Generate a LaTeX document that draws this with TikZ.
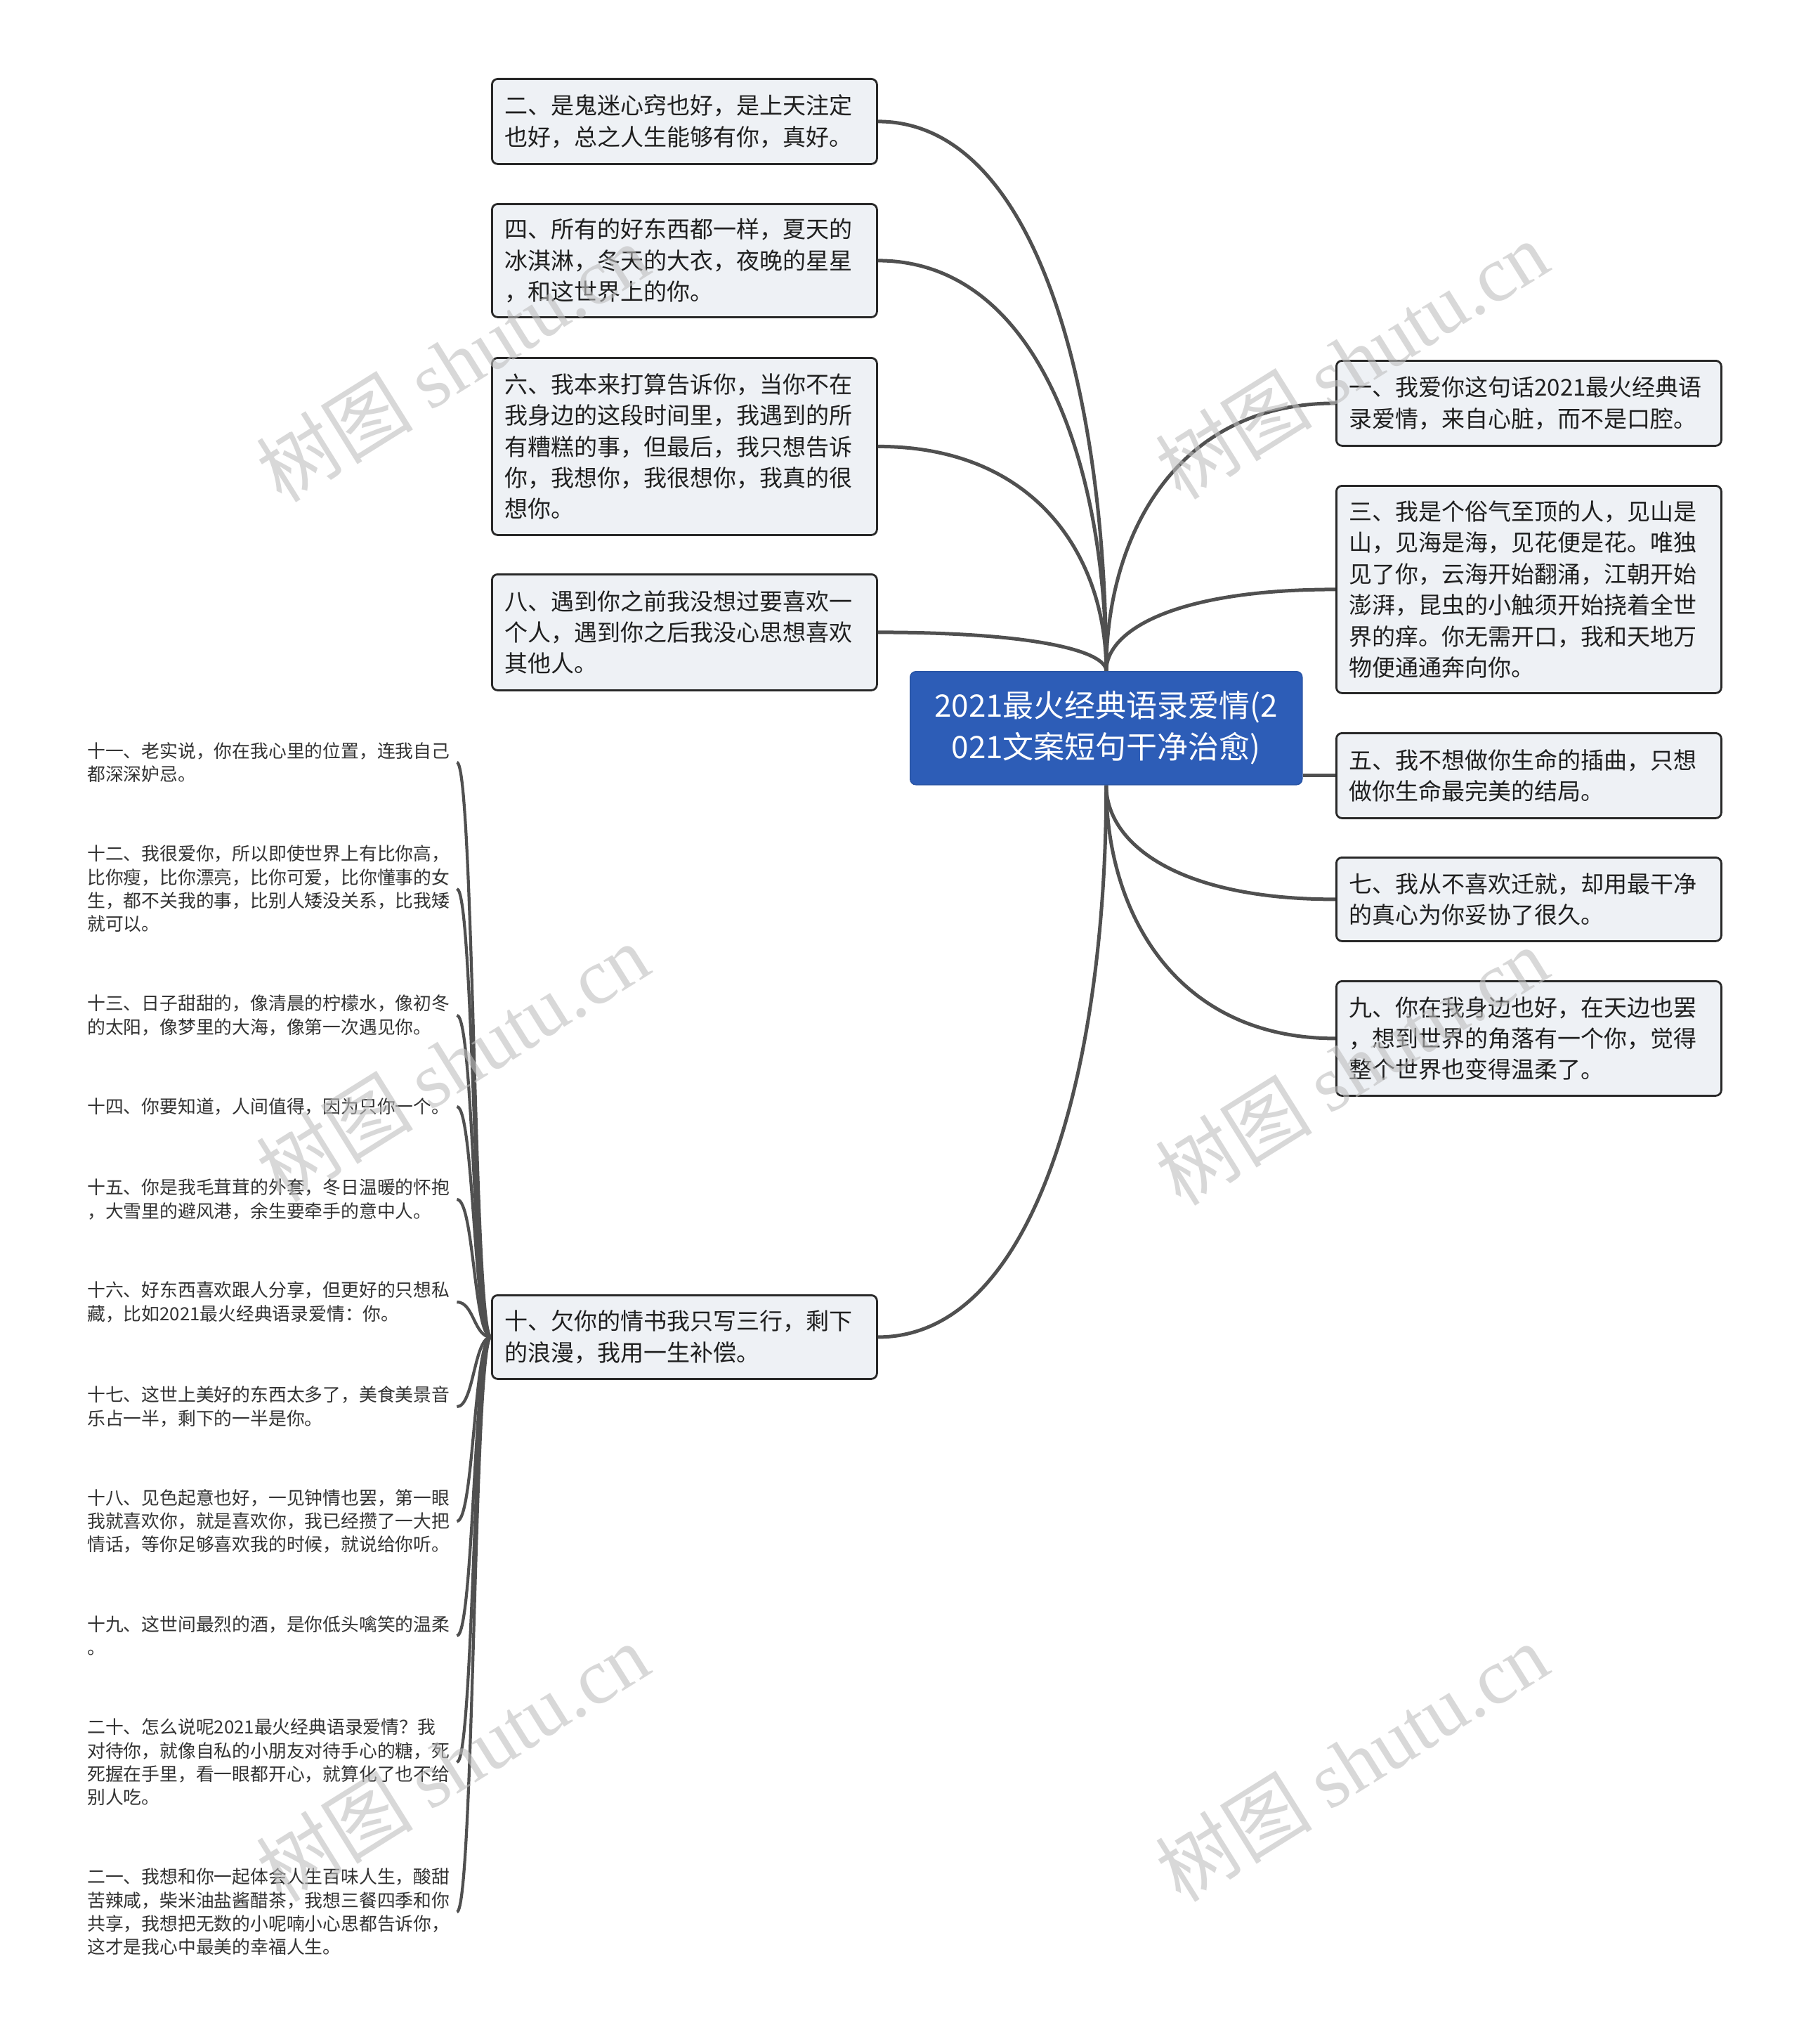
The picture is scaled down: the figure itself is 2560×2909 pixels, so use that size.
\documentclass[tikz,border=0pt]{standalone}
\usepackage{fontspec}
\setmainfont{Noto Sans CJK SC}
\newfontfamily\wmlatin{Liberation Serif}
\usetikzlibrary{calc,backgrounds}
\definecolor{boxfill}{RGB}{238,241,245}
\definecolor{boxline}{RGB}{40,40,40}
\definecolor{mainblue}{RGB}{45,93,183}
\definecolor{connc}{RGB}{80,80,80}
\definecolor{leaftext}{RGB}{51,51,51}
\definecolor{wmgray}{RGB}{190,190,190}
\tikzset{
  mmbox/.style={draw=boxline, line width=2.8pt, fill=boxfill, rounded corners=8pt, anchor=north west,
    text width=512pt, inner xsep=18pt, inner ysep=6pt, align=left,
    font=\fontsize{33}{44.4}\selectfont, text=black!88},
  centralbox/.style={draw=mainblue!90!black, line width=1.5pt, fill=mainblue, rounded corners=8pt, anchor=north west,
    minimum width=558pt, minimum height=161pt, inner sep=4pt, align=center,
    font=\fontsize{44}{59}\selectfont, text=white},
  leafnode/.style={anchor=west, text width=516pt, inner xsep=10pt, inner ysep=4pt, align=left,
    font=\fontsize{25.8}{33.4}\selectfont, text=leaftext},
  conn/.style={draw=connc, line width=5pt},
  leafconn/.style={draw=connc, line width=4.2pt},
  wmark/.style={rotate=32, text=wmgray, opacity=0.6, font=\fontsize{112}{112}\selectfont}
}
\newcommand\mmlink[2]{\draw[conn] (#1) .. controls ($(#1)!0.5!(#1|-#2)$) and ($(#2)!0.7!(#2-|#1)$) .. (#2);}
\newcommand\mmleaflink[2]{\draw[leafconn] (#1) .. controls ($(#1)!0.5!(#1-|#2)$) and ($(#2)!0.5!(#2-|#1)$) .. (#2);}
\begin{document}
\begin{tikzpicture}[x=1pt,y=-1pt]
\useasboundingbox (0,0) rectangle (2560,2909);

% central
\node[centralbox] (c) at (1295,955) {2021最火经典语录爱情(2\\021文案短句干净治愈)};

% left upper branches
\node[mmbox, minimum height=121pt] (n2) at (699,111) {二、是鬼迷心窍也好，是上天注定\\也好，总之人生能够有你，真好。};
\node[mmbox, minimum height=161pt] (n4) at (699,289) {四、所有的好东西都一样，夏天的\\冰淇淋，冬天的大衣，夜晚的星星\\，和这世界上的你。};
\node[mmbox, minimum height=252pt] (n6) at (699,508) {六、我本来打算告诉你，当你不在\\我身边的这段时间里，我遇到的所\\有糟糕的事，但最后，我只想告诉\\你，我想你，我很想你，我真的很\\想你。};
\node[mmbox, minimum height=165pt] (n8) at (699,816) {八、遇到你之前我没想过要喜欢一\\个人，遇到你之后我没心思想喜欢\\其他人。};
\node[mmbox, minimum height=119pt] (n10) at (699,1842) {十、欠你的情书我只写三行，剩下\\的浪漫，我用一生补偿。};

% right branches
\node[mmbox, minimum height=121pt] (n1) at (1901,512) {一、我爱你这句话2021最火经典语\\录爱情，来自心脏，而不是口腔。};
\node[mmbox, minimum height=295pt] (n3) at (1901,690) {三、我是个俗气至顶的人，见山是\\山，见海是海，见花便是花。唯独\\见了你，云海开始翻涌，江朝开始\\澎湃，昆虫的小触须开始挠着全世\\界的痒。你无需开口，我和天地万\\物便通通奔向你。};
\node[mmbox, minimum height=121pt] (n5) at (1901,1042) {五、我不想做你生命的插曲，只想\\做你生命最完美的结局。};
\node[mmbox, minimum height=119pt] (n7) at (1901,1219) {七、我从不喜欢迁就，却用最干净\\的真心为你妥协了很久。};
\node[mmbox, minimum height=163pt] (n9) at (1901,1395) {九、你在我身边也好，在天边也罢\\，想到世界的角落有一个你，觉得\\整个世界也变得温柔了。};

% leaves of node ten
\node[leafnode] (l11) at (114,1085) {十一、老实说，你在我心里的位置，连我自己\\都深深妒忌。};
\node[leafnode] (l12) at (114,1265) {十二、我很爱你，所以即使世界上有比你高，\\比你瘦，比你漂亮，比你可爱，比你懂事的女\\生，都不关我的事，比别人矮没关系，比我矮\\就可以。};
\node[leafnode] (l13) at (114,1445) {十三、日子甜甜的，像清晨的柠檬水，像初冬\\的太阳，像梦里的大海，像第一次遇见你。};
\node[leafnode] (l14) at (114,1575) {十四、你要知道，人间值得，因为只你一个。};
\node[leafnode] (l15) at (114,1707) {十五、你是我毛茸茸的外套，冬日温暖的怀抱\\，大雪里的避风港，余生要牵手的意中人。};
\node[leafnode] (l16) at (114,1853) {十六、好东西喜欢跟人分享，但更好的只想私\\藏，比如2021最火经典语录爱情：你。};
\node[leafnode] (l17) at (114,2002) {十七、这世上美好的东西太多了，美食美景音\\乐占一半，剩下的一半是你。};
\node[leafnode] (l18) at (114,2165) {十八、见色起意也好，一见钟情也罢，第一眼\\我就喜欢你，就是喜欢你，我已经攒了一大把\\情话，等你足够喜欢我的时候，就说给你听。};
\node[leafnode] (l19) at (114,2328) {十九、这世间最烈的酒，是你低头噙笑的温柔\\。};
\node[leafnode] (l20) at (114,2508) {二十、怎么说呢2021最火经典语录爱情？我\\对待你，就像自私的小朋友对待手心的糖，死\\死握在手里，看一眼都开心，就算化了也不给\\别人吃。};
\node[leafnode] (l21) at (114,2721) {二一、我想和你一起体会人生百味人生，酸甜\\苦辣咸，柴米油盐酱醋茶，我想三餐四季和你\\共享，我想把无数的小呢喃小心思都告诉你，\\这才是我心中最美的幸福人生。};

\begin{scope}[on background layer]
\fill[white] (0,0) rectangle (2560,2909);
\mmlink{c.north}{n2.east}
\mmlink{c.north}{n4.east}
\mmlink{c.north}{n6.east}
\mmlink{c.north}{n8.east}
\mmlink{c.south}{n10.east}
\mmlink{c.north}{n1.west}
\mmlink{c.north}{n3.west}
\draw[conn] (c.east |- n5.west) -- (n5.west);
\mmlink{c.south}{n7.west}
\mmlink{c.south}{n9.west}
\foreach \lf in {l11,l12,l13,l14,l15,l16,l17,l18,l19,l20,l21}{
  \mmleaflink{n10.west}{\lf.east}
}
\end{scope}

% watermarks
\foreach \wx/\wy/\wn in {644/516/a,1924/512/b,644/1512/c,1924/1517/d,644/2508/e,1924/2508/f}{
  \node[wmark] (wm\wn) at (\wx,\wy) {树图 {\wmlatin shutu.cn}};
}
\end{tikzpicture}
\end{document}
